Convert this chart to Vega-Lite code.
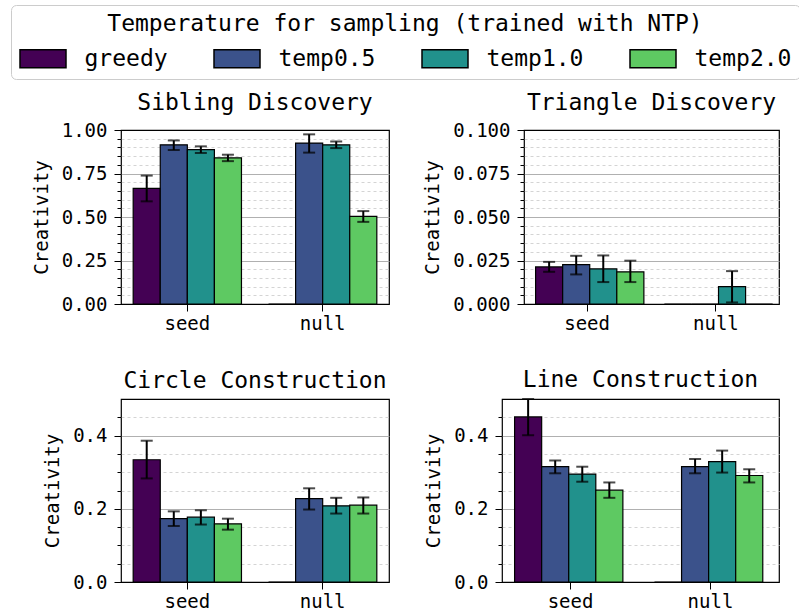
{
  "$schema": "https://vega.github.io/schema/vega-lite/v6.json",
  "padding": {"left": 10, "top": 4, "right": 2, "bottom": 2},
  "background": "white",
  "datasets": {
    "d": [
      {"panel": "Sibling Discovery", "group": "seed", "temp": "greedy", "value": 0.665, "lo": 0.59, "hi": 0.738},
      {"panel": "Sibling Discovery", "group": "seed", "temp": "temp0.5", "value": 0.915, "lo": 0.885, "hi": 0.94},
      {"panel": "Sibling Discovery", "group": "seed", "temp": "temp1.0", "value": 0.887, "lo": 0.868, "hi": 0.906},
      {"panel": "Sibling Discovery", "group": "seed", "temp": "temp2.0", "value": 0.84, "lo": 0.821, "hi": 0.858},
      {"panel": "Sibling Discovery", "group": "null", "temp": "greedy", "value": 0.0, "lo": null, "hi": null},
      {"panel": "Sibling Discovery", "group": "null", "temp": "temp0.5", "value": 0.925, "lo": 0.87, "hi": 0.975},
      {"panel": "Sibling Discovery", "group": "null", "temp": "temp1.0", "value": 0.915, "lo": 0.896, "hi": 0.934},
      {"panel": "Sibling Discovery", "group": "null", "temp": "temp2.0", "value": 0.504, "lo": 0.472, "hi": 0.534},
      {"panel": "Triangle Discovery", "group": "seed", "temp": "greedy", "value": 0.0213, "lo": 0.0185, "hi": 0.0242},
      {"panel": "Triangle Discovery", "group": "seed", "temp": "temp0.5", "value": 0.0226, "lo": 0.017, "hi": 0.0277},
      {"panel": "Triangle Discovery", "group": "seed", "temp": "temp1.0", "value": 0.0202, "lo": 0.0126, "hi": 0.0279},
      {"panel": "Triangle Discovery", "group": "seed", "temp": "temp2.0", "value": 0.0185, "lo": 0.0126, "hi": 0.0249},
      {"panel": "Triangle Discovery", "group": "null", "temp": "greedy", "value": 0.0, "lo": null, "hi": null},
      {"panel": "Triangle Discovery", "group": "null", "temp": "temp0.5", "value": 0.0, "lo": null, "hi": null},
      {"panel": "Triangle Discovery", "group": "null", "temp": "temp1.0", "value": 0.01, "lo": 0.0009, "hi": 0.0189},
      {"panel": "Triangle Discovery", "group": "null", "temp": "temp2.0", "value": 0.0, "lo": null, "hi": null},
      {"panel": "Circle Construction", "group": "seed", "temp": "greedy", "value": 0.334, "lo": 0.283, "hi": 0.386},
      {"panel": "Circle Construction", "group": "seed", "temp": "temp0.5", "value": 0.173, "lo": 0.153, "hi": 0.193},
      {"panel": "Circle Construction", "group": "seed", "temp": "temp1.0", "value": 0.177, "lo": 0.157, "hi": 0.196},
      {"panel": "Circle Construction", "group": "seed", "temp": "temp2.0", "value": 0.159, "lo": 0.143, "hi": 0.173},
      {"panel": "Circle Construction", "group": "null", "temp": "greedy", "value": 0.0, "lo": null, "hi": null},
      {"panel": "Circle Construction", "group": "null", "temp": "temp0.5", "value": 0.228, "lo": 0.198, "hi": 0.256},
      {"panel": "Circle Construction", "group": "null", "temp": "temp1.0", "value": 0.208, "lo": 0.187, "hi": 0.23},
      {"panel": "Circle Construction", "group": "null", "temp": "temp2.0", "value": 0.21, "lo": 0.187, "hi": 0.231},
      {"panel": "Line Construction", "group": "seed", "temp": "greedy", "value": 0.451, "lo": 0.401, "hi": 0.5},
      {"panel": "Line Construction", "group": "seed", "temp": "temp0.5", "value": 0.315, "lo": 0.297, "hi": 0.332},
      {"panel": "Line Construction", "group": "seed", "temp": "temp1.0", "value": 0.295, "lo": 0.274, "hi": 0.315},
      {"panel": "Line Construction", "group": "seed", "temp": "temp2.0", "value": 0.251, "lo": 0.23, "hi": 0.272},
      {"panel": "Line Construction", "group": "null", "temp": "greedy", "value": 0.0, "lo": null, "hi": null},
      {"panel": "Line Construction", "group": "null", "temp": "temp0.5", "value": 0.315, "lo": 0.297, "hi": 0.336},
      {"panel": "Line Construction", "group": "null", "temp": "temp1.0", "value": 0.329, "lo": 0.299, "hi": 0.359},
      {"panel": "Line Construction", "group": "null", "temp": "temp2.0", "value": 0.291, "lo": 0.272, "hi": 0.308}
    ]
  },
  "spacing": 34,
  "vconcat": [
    {
      "hconcat": [
        {
          "width": 268, "height": 174,
          "title": "Sibling Discovery",
          "data": {"name": "d"},
          "transform": [{"filter": "datum.panel === 'Sibling Discovery'"}],
          "encoding": {
            "x": {"field": "group", "type": "nominal", "sort": ["seed", "null"], "scale": {"paddingInner": 0.2, "paddingOuter": 0.09}, "axis": {"title": null}},
            "xOffset": {"field": "temp", "type": "nominal", "sort": ["greedy", "temp0.5", "temp1.0", "temp2.0"], "scale": {"paddingInner": 0, "paddingOuter": 0}}
          },
          "layer": [
            {
              "mark": {"type": "bar", "stroke": "black", "strokeWidth": 1.2},
              "encoding": {
                "y": {"field": "value", "type": "quantitative", "scale": {"domain": [0, 1], "nice": false}, "axis": {"title": "Creativity", "values": [0, 0.05, 0.1, 0.15, 0.2, 0.25, 0.3, 0.35, 0.4, 0.45, 0.5, 0.55, 0.6, 0.65, 0.7, 0.75, 0.8, 0.85, 0.9, 0.95, 1.0], "labelExpr": "abs(datum.value*4 - round(datum.value*4)) < 1e-6 ? format(datum.value, '.2f') : ''", "tickSize": {"condition": {"test": "abs(datum.value*4 - round(datum.value*4)) < 1e-6", "value": 7}, "value": 4}, "gridDash": {"condition": {"test": "abs(datum.value*4 - round(datum.value*4)) < 1e-6", "value": []}, "value": [3, 3]}, "gridColor": {"condition": {"test": "abs(datum.value*4 - round(datum.value*4)) < 1e-6", "value": "#b0b0b0"}, "value": "#d4d4d4"}, "gridOpacity": {"condition": {"test": "datum.value < 1e-9 || datum.value > 0.999", "value": 0}, "value": 1}}},
                "color": {"field": "temp", "type": "nominal", "scale": {"domain": ["greedy", "temp0.5", "temp1.0", "temp2.0"], "range": ["#440154", "#3b528b", "#21918c", "#5ec962"]}, "legend": {"title": "Temperature for sampling (trained with NTP)", "orient": "none", "legendX": -110, "legendY": -125, "direction": "horizontal", "columns": 4}}
              }
            },
            {
              "transform": [{"filter": "isValid(datum.lo)"}],
              "mark": {"type": "rule", "color": "black", "strokeWidth": 2},
              "encoding": {"y": {"field": "lo", "type": "quantitative", "scale": {"domain": [0, 1], "nice": false}, "axis": {"title": "Creativity", "values": [0, 0.05, 0.1, 0.15, 0.2, 0.25, 0.3, 0.35, 0.4, 0.45, 0.5, 0.55, 0.6, 0.65, 0.7, 0.75, 0.8, 0.85, 0.9, 0.95, 1.0], "labelExpr": "abs(datum.value*4 - round(datum.value*4)) < 1e-6 ? format(datum.value, '.2f') : ''", "tickSize": {"condition": {"test": "abs(datum.value*4 - round(datum.value*4)) < 1e-6", "value": 7}, "value": 4}, "gridDash": {"condition": {"test": "abs(datum.value*4 - round(datum.value*4)) < 1e-6", "value": []}, "value": [3, 3]}, "gridColor": {"condition": {"test": "abs(datum.value*4 - round(datum.value*4)) < 1e-6", "value": "#b0b0b0"}, "value": "#d4d4d4"}, "gridOpacity": {"condition": {"test": "datum.value < 1e-9 || datum.value > 0.999", "value": 0}, "value": 1}}}, "y2": {"field": "hi"}}
            },
            {
              "transform": [{"filter": "isValid(datum.lo)"}],
              "mark": {"type": "tick", "orient": "horizontal", "color": "black", "size": 12, "thickness": 2},
              "encoding": {"y": {"field": "lo", "type": "quantitative", "scale": {"domain": [0, 1], "nice": false}, "axis": {"title": "Creativity", "values": [0, 0.05, 0.1, 0.15, 0.2, 0.25, 0.3, 0.35, 0.4, 0.45, 0.5, 0.55, 0.6, 0.65, 0.7, 0.75, 0.8, 0.85, 0.9, 0.95, 1.0], "labelExpr": "abs(datum.value*4 - round(datum.value*4)) < 1e-6 ? format(datum.value, '.2f') : ''", "tickSize": {"condition": {"test": "abs(datum.value*4 - round(datum.value*4)) < 1e-6", "value": 7}, "value": 4}, "gridDash": {"condition": {"test": "abs(datum.value*4 - round(datum.value*4)) < 1e-6", "value": []}, "value": [3, 3]}, "gridColor": {"condition": {"test": "abs(datum.value*4 - round(datum.value*4)) < 1e-6", "value": "#b0b0b0"}, "value": "#d4d4d4"}, "gridOpacity": {"condition": {"test": "datum.value < 1e-9 || datum.value > 0.999", "value": 0}, "value": 1}}}}
            },
            {
              "transform": [{"filter": "isValid(datum.lo)"}],
              "mark": {"type": "tick", "orient": "horizontal", "color": "black", "size": 12, "thickness": 2},
              "encoding": {"y": {"field": "hi", "type": "quantitative", "scale": {"domain": [0, 1], "nice": false}, "axis": {"title": "Creativity", "values": [0, 0.05, 0.1, 0.15, 0.2, 0.25, 0.3, 0.35, 0.4, 0.45, 0.5, 0.55, 0.6, 0.65, 0.7, 0.75, 0.8, 0.85, 0.9, 0.95, 1.0], "labelExpr": "abs(datum.value*4 - round(datum.value*4)) < 1e-6 ? format(datum.value, '.2f') : ''", "tickSize": {"condition": {"test": "abs(datum.value*4 - round(datum.value*4)) < 1e-6", "value": 7}, "value": 4}, "gridDash": {"condition": {"test": "abs(datum.value*4 - round(datum.value*4)) < 1e-6", "value": []}, "value": [3, 3]}, "gridColor": {"condition": {"test": "abs(datum.value*4 - round(datum.value*4)) < 1e-6", "value": "#b0b0b0"}, "value": "#d4d4d4"}, "gridOpacity": {"condition": {"test": "datum.value < 1e-9 || datum.value > 0.999", "value": 0}, "value": 1}}}}
            }
          ]
        },
        {
          "width": 255, "height": 174,
          "title": "Triangle Discovery",
          "data": {"name": "d"},
          "transform": [{"filter": "datum.panel === 'Triangle Discovery'"}],
          "encoding": {
            "x": {"field": "group", "type": "nominal", "sort": ["seed", "null"], "scale": {"paddingInner": 0.2, "paddingOuter": 0.09}, "axis": {"title": null}},
            "xOffset": {"field": "temp", "type": "nominal", "sort": ["greedy", "temp0.5", "temp1.0", "temp2.0"], "scale": {"paddingInner": 0, "paddingOuter": 0}}
          },
          "layer": [
            {
              "mark": {"type": "bar", "stroke": "black", "strokeWidth": 1.2},
              "encoding": {
                "y": {"field": "value", "type": "quantitative", "scale": {"domain": [0, 0.1], "nice": false}, "axis": {"title": "Creativity", "values": [0, 0.005, 0.01, 0.015, 0.02, 0.025, 0.03, 0.035, 0.04, 0.045, 0.05, 0.055, 0.06, 0.065, 0.07, 0.075, 0.08, 0.085, 0.09, 0.095, 0.1], "labelExpr": "abs(datum.value*40 - round(datum.value*40)) < 1e-6 ? format(datum.value, '.3f') : ''", "tickSize": {"condition": {"test": "abs(datum.value*40 - round(datum.value*40)) < 1e-6", "value": 7}, "value": 4}, "gridDash": {"condition": {"test": "abs(datum.value*40 - round(datum.value*40)) < 1e-6", "value": []}, "value": [3, 3]}, "gridColor": {"condition": {"test": "abs(datum.value*40 - round(datum.value*40)) < 1e-6", "value": "#b0b0b0"}, "value": "#d4d4d4"}, "gridOpacity": {"condition": {"test": "datum.value < 1e-9 || datum.value > 0.0999", "value": 0}, "value": 1}}},
                "color": {"field": "temp", "type": "nominal", "scale": {"domain": ["greedy", "temp0.5", "temp1.0", "temp2.0"], "range": ["#440154", "#3b528b", "#21918c", "#5ec962"]}, "legend": {"title": "Temperature for sampling (trained with NTP)", "orient": "none", "legendX": -110, "legendY": -125, "direction": "horizontal", "columns": 4}}
              }
            },
            {
              "transform": [{"filter": "isValid(datum.lo)"}],
              "mark": {"type": "rule", "color": "black", "strokeWidth": 2},
              "encoding": {"y": {"field": "lo", "type": "quantitative", "scale": {"domain": [0, 0.1], "nice": false}, "axis": {"title": "Creativity", "values": [0, 0.005, 0.01, 0.015, 0.02, 0.025, 0.03, 0.035, 0.04, 0.045, 0.05, 0.055, 0.06, 0.065, 0.07, 0.075, 0.08, 0.085, 0.09, 0.095, 0.1], "labelExpr": "abs(datum.value*40 - round(datum.value*40)) < 1e-6 ? format(datum.value, '.3f') : ''", "tickSize": {"condition": {"test": "abs(datum.value*40 - round(datum.value*40)) < 1e-6", "value": 7}, "value": 4}, "gridDash": {"condition": {"test": "abs(datum.value*40 - round(datum.value*40)) < 1e-6", "value": []}, "value": [3, 3]}, "gridColor": {"condition": {"test": "abs(datum.value*40 - round(datum.value*40)) < 1e-6", "value": "#b0b0b0"}, "value": "#d4d4d4"}, "gridOpacity": {"condition": {"test": "datum.value < 1e-9 || datum.value > 0.0999", "value": 0}, "value": 1}}}, "y2": {"field": "hi"}}
            },
            {
              "transform": [{"filter": "isValid(datum.lo)"}],
              "mark": {"type": "tick", "orient": "horizontal", "color": "black", "size": 12, "thickness": 2},
              "encoding": {"y": {"field": "lo", "type": "quantitative", "scale": {"domain": [0, 0.1], "nice": false}, "axis": {"title": "Creativity", "values": [0, 0.005, 0.01, 0.015, 0.02, 0.025, 0.03, 0.035, 0.04, 0.045, 0.05, 0.055, 0.06, 0.065, 0.07, 0.075, 0.08, 0.085, 0.09, 0.095, 0.1], "labelExpr": "abs(datum.value*40 - round(datum.value*40)) < 1e-6 ? format(datum.value, '.3f') : ''", "tickSize": {"condition": {"test": "abs(datum.value*40 - round(datum.value*40)) < 1e-6", "value": 7}, "value": 4}, "gridDash": {"condition": {"test": "abs(datum.value*40 - round(datum.value*40)) < 1e-6", "value": []}, "value": [3, 3]}, "gridColor": {"condition": {"test": "abs(datum.value*40 - round(datum.value*40)) < 1e-6", "value": "#b0b0b0"}, "value": "#d4d4d4"}, "gridOpacity": {"condition": {"test": "datum.value < 1e-9 || datum.value > 0.0999", "value": 0}, "value": 1}}}}
            },
            {
              "transform": [{"filter": "isValid(datum.lo)"}],
              "mark": {"type": "tick", "orient": "horizontal", "color": "black", "size": 12, "thickness": 2},
              "encoding": {"y": {"field": "hi", "type": "quantitative", "scale": {"domain": [0, 0.1], "nice": false}, "axis": {"title": "Creativity", "values": [0, 0.005, 0.01, 0.015, 0.02, 0.025, 0.03, 0.035, 0.04, 0.045, 0.05, 0.055, 0.06, 0.065, 0.07, 0.075, 0.08, 0.085, 0.09, 0.095, 0.1], "labelExpr": "abs(datum.value*40 - round(datum.value*40)) < 1e-6 ? format(datum.value, '.3f') : ''", "tickSize": {"condition": {"test": "abs(datum.value*40 - round(datum.value*40)) < 1e-6", "value": 7}, "value": 4}, "gridDash": {"condition": {"test": "abs(datum.value*40 - round(datum.value*40)) < 1e-6", "value": []}, "value": [3, 3]}, "gridColor": {"condition": {"test": "abs(datum.value*40 - round(datum.value*40)) < 1e-6", "value": "#b0b0b0"}, "value": "#d4d4d4"}, "gridOpacity": {"condition": {"test": "datum.value < 1e-9 || datum.value > 0.0999", "value": 0}, "value": 1}}}}
            }
          ]
        }
      ],
      "spacing": 135,
      "bounds": "flush"
    },
    {
      "hconcat": [
        {
          "width": 268, "height": 183,
          "title": "Circle Construction",
          "data": {"name": "d"},
          "transform": [{"filter": "datum.panel === 'Circle Construction'"}],
          "encoding": {
            "x": {"field": "group", "type": "nominal", "sort": ["seed", "null"], "scale": {"paddingInner": 0.2, "paddingOuter": 0.09}, "axis": {"title": null}},
            "xOffset": {"field": "temp", "type": "nominal", "sort": ["greedy", "temp0.5", "temp1.0", "temp2.0"], "scale": {"paddingInner": 0, "paddingOuter": 0}}
          },
          "layer": [
            {
              "mark": {"type": "bar", "stroke": "black", "strokeWidth": 1.2},
              "encoding": {
                "y": {"field": "value", "type": "quantitative", "scale": {"domain": [0, 0.5], "nice": false}, "axis": {"title": "Creativity", "values": [0, 0.05, 0.1, 0.15, 0.2, 0.25, 0.3, 0.35, 0.4, 0.45], "labelExpr": "abs(datum.value*5 - round(datum.value*5)) < 1e-6 ? format(datum.value, '.1f') : ''", "tickSize": {"condition": {"test": "abs(datum.value*5 - round(datum.value*5)) < 1e-6", "value": 7}, "value": 4}, "gridDash": {"condition": {"test": "abs(datum.value*5 - round(datum.value*5)) < 1e-6", "value": []}, "value": [3, 3]}, "gridColor": {"condition": {"test": "abs(datum.value*5 - round(datum.value*5)) < 1e-6", "value": "#b0b0b0"}, "value": "#d4d4d4"}, "gridOpacity": {"condition": {"test": "datum.value < 1e-9", "value": 0}, "value": 1}}},
                "color": {"field": "temp", "type": "nominal", "scale": {"domain": ["greedy", "temp0.5", "temp1.0", "temp2.0"], "range": ["#440154", "#3b528b", "#21918c", "#5ec962"]}, "legend": {"title": "Temperature for sampling (trained with NTP)", "orient": "none", "legendX": -110, "legendY": -125, "direction": "horizontal", "columns": 4}}
              }
            },
            {
              "transform": [{"filter": "isValid(datum.lo)"}],
              "mark": {"type": "rule", "color": "black", "strokeWidth": 2},
              "encoding": {"y": {"field": "lo", "type": "quantitative", "scale": {"domain": [0, 0.5], "nice": false}, "axis": {"title": "Creativity", "values": [0, 0.05, 0.1, 0.15, 0.2, 0.25, 0.3, 0.35, 0.4, 0.45], "labelExpr": "abs(datum.value*5 - round(datum.value*5)) < 1e-6 ? format(datum.value, '.1f') : ''", "tickSize": {"condition": {"test": "abs(datum.value*5 - round(datum.value*5)) < 1e-6", "value": 7}, "value": 4}, "gridDash": {"condition": {"test": "abs(datum.value*5 - round(datum.value*5)) < 1e-6", "value": []}, "value": [3, 3]}, "gridColor": {"condition": {"test": "abs(datum.value*5 - round(datum.value*5)) < 1e-6", "value": "#b0b0b0"}, "value": "#d4d4d4"}, "gridOpacity": {"condition": {"test": "datum.value < 1e-9", "value": 0}, "value": 1}}}, "y2": {"field": "hi"}}
            },
            {
              "transform": [{"filter": "isValid(datum.lo)"}],
              "mark": {"type": "tick", "orient": "horizontal", "color": "black", "size": 12, "thickness": 2},
              "encoding": {"y": {"field": "lo", "type": "quantitative", "scale": {"domain": [0, 0.5], "nice": false}, "axis": {"title": "Creativity", "values": [0, 0.05, 0.1, 0.15, 0.2, 0.25, 0.3, 0.35, 0.4, 0.45], "labelExpr": "abs(datum.value*5 - round(datum.value*5)) < 1e-6 ? format(datum.value, '.1f') : ''", "tickSize": {"condition": {"test": "abs(datum.value*5 - round(datum.value*5)) < 1e-6", "value": 7}, "value": 4}, "gridDash": {"condition": {"test": "abs(datum.value*5 - round(datum.value*5)) < 1e-6", "value": []}, "value": [3, 3]}, "gridColor": {"condition": {"test": "abs(datum.value*5 - round(datum.value*5)) < 1e-6", "value": "#b0b0b0"}, "value": "#d4d4d4"}, "gridOpacity": {"condition": {"test": "datum.value < 1e-9", "value": 0}, "value": 1}}}}
            },
            {
              "transform": [{"filter": "isValid(datum.lo)"}],
              "mark": {"type": "tick", "orient": "horizontal", "color": "black", "size": 12, "thickness": 2},
              "encoding": {"y": {"field": "hi", "type": "quantitative", "scale": {"domain": [0, 0.5], "nice": false}, "axis": {"title": "Creativity", "values": [0, 0.05, 0.1, 0.15, 0.2, 0.25, 0.3, 0.35, 0.4, 0.45], "labelExpr": "abs(datum.value*5 - round(datum.value*5)) < 1e-6 ? format(datum.value, '.1f') : ''", "tickSize": {"condition": {"test": "abs(datum.value*5 - round(datum.value*5)) < 1e-6", "value": 7}, "value": 4}, "gridDash": {"condition": {"test": "abs(datum.value*5 - round(datum.value*5)) < 1e-6", "value": []}, "value": [3, 3]}, "gridColor": {"condition": {"test": "abs(datum.value*5 - round(datum.value*5)) < 1e-6", "value": "#b0b0b0"}, "value": "#d4d4d4"}, "gridOpacity": {"condition": {"test": "datum.value < 1e-9", "value": 0}, "value": 1}}}}
            }
          ]
        },
        {
          "width": 277, "height": 183,
          "title": "Line Construction",
          "data": {"name": "d"},
          "transform": [{"filter": "datum.panel === 'Line Construction'"}],
          "encoding": {
            "x": {"field": "group", "type": "nominal", "sort": ["seed", "null"], "scale": {"paddingInner": 0.2, "paddingOuter": 0.09}, "axis": {"title": null}},
            "xOffset": {"field": "temp", "type": "nominal", "sort": ["greedy", "temp0.5", "temp1.0", "temp2.0"], "scale": {"paddingInner": 0, "paddingOuter": 0}}
          },
          "layer": [
            {
              "mark": {"type": "bar", "stroke": "black", "strokeWidth": 1.2},
              "encoding": {
                "y": {"field": "value", "type": "quantitative", "scale": {"domain": [0, 0.5], "nice": false}, "axis": {"title": "Creativity", "values": [0, 0.05, 0.1, 0.15, 0.2, 0.25, 0.3, 0.35, 0.4, 0.45], "labelExpr": "abs(datum.value*5 - round(datum.value*5)) < 1e-6 ? format(datum.value, '.1f') : ''", "tickSize": {"condition": {"test": "abs(datum.value*5 - round(datum.value*5)) < 1e-6", "value": 7}, "value": 4}, "gridDash": {"condition": {"test": "abs(datum.value*5 - round(datum.value*5)) < 1e-6", "value": []}, "value": [3, 3]}, "gridColor": {"condition": {"test": "abs(datum.value*5 - round(datum.value*5)) < 1e-6", "value": "#b0b0b0"}, "value": "#d4d4d4"}, "gridOpacity": {"condition": {"test": "datum.value < 1e-9", "value": 0}, "value": 1}}},
                "color": {"field": "temp", "type": "nominal", "scale": {"domain": ["greedy", "temp0.5", "temp1.0", "temp2.0"], "range": ["#440154", "#3b528b", "#21918c", "#5ec962"]}, "legend": {"title": "Temperature for sampling (trained with NTP)", "orient": "none", "legendX": -110, "legendY": -125, "direction": "horizontal", "columns": 4}}
              }
            },
            {
              "transform": [{"filter": "isValid(datum.lo)"}],
              "mark": {"type": "rule", "color": "black", "strokeWidth": 2},
              "encoding": {"y": {"field": "lo", "type": "quantitative", "scale": {"domain": [0, 0.5], "nice": false}, "axis": {"title": "Creativity", "values": [0, 0.05, 0.1, 0.15, 0.2, 0.25, 0.3, 0.35, 0.4, 0.45], "labelExpr": "abs(datum.value*5 - round(datum.value*5)) < 1e-6 ? format(datum.value, '.1f') : ''", "tickSize": {"condition": {"test": "abs(datum.value*5 - round(datum.value*5)) < 1e-6", "value": 7}, "value": 4}, "gridDash": {"condition": {"test": "abs(datum.value*5 - round(datum.value*5)) < 1e-6", "value": []}, "value": [3, 3]}, "gridColor": {"condition": {"test": "abs(datum.value*5 - round(datum.value*5)) < 1e-6", "value": "#b0b0b0"}, "value": "#d4d4d4"}, "gridOpacity": {"condition": {"test": "datum.value < 1e-9", "value": 0}, "value": 1}}}, "y2": {"field": "hi"}}
            },
            {
              "transform": [{"filter": "isValid(datum.lo)"}],
              "mark": {"type": "tick", "orient": "horizontal", "color": "black", "size": 12, "thickness": 2},
              "encoding": {"y": {"field": "lo", "type": "quantitative", "scale": {"domain": [0, 0.5], "nice": false}, "axis": {"title": "Creativity", "values": [0, 0.05, 0.1, 0.15, 0.2, 0.25, 0.3, 0.35, 0.4, 0.45], "labelExpr": "abs(datum.value*5 - round(datum.value*5)) < 1e-6 ? format(datum.value, '.1f') : ''", "tickSize": {"condition": {"test": "abs(datum.value*5 - round(datum.value*5)) < 1e-6", "value": 7}, "value": 4}, "gridDash": {"condition": {"test": "abs(datum.value*5 - round(datum.value*5)) < 1e-6", "value": []}, "value": [3, 3]}, "gridColor": {"condition": {"test": "abs(datum.value*5 - round(datum.value*5)) < 1e-6", "value": "#b0b0b0"}, "value": "#d4d4d4"}, "gridOpacity": {"condition": {"test": "datum.value < 1e-9", "value": 0}, "value": 1}}}}
            },
            {
              "transform": [{"filter": "isValid(datum.lo)"}],
              "mark": {"type": "tick", "orient": "horizontal", "color": "black", "size": 12, "thickness": 2},
              "encoding": {"y": {"field": "hi", "type": "quantitative", "scale": {"domain": [0, 0.5], "nice": false}, "axis": {"title": "Creativity", "values": [0, 0.05, 0.1, 0.15, 0.2, 0.25, 0.3, 0.35, 0.4, 0.45], "labelExpr": "abs(datum.value*5 - round(datum.value*5)) < 1e-6 ? format(datum.value, '.1f') : ''", "tickSize": {"condition": {"test": "abs(datum.value*5 - round(datum.value*5)) < 1e-6", "value": 7}, "value": 4}, "gridDash": {"condition": {"test": "abs(datum.value*5 - round(datum.value*5)) < 1e-6", "value": []}, "value": [3, 3]}, "gridColor": {"condition": {"test": "abs(datum.value*5 - round(datum.value*5)) < 1e-6", "value": "#b0b0b0"}, "value": "#d4d4d4"}, "gridOpacity": {"condition": {"test": "datum.value < 1e-9", "value": 0}, "value": 1}}}}
            }
          ]
        }
      ],
      "spacing": 113,
      "bounds": "flush"
    }
  ],
  "config": {
    "font": "DejaVu Sans Mono",
    "view": {"stroke": "black", "strokeWidth": 1.2},
    "title": {"font": "DejaVu Sans Mono", "fontSize": 23, "fontWeight": "normal", "color": "black", "anchor": "middle", "frame": "group", "offset": 6},
    "axis": {
      "labelFont": "DejaVu Sans Mono", "labelFontSize": 19, "labelColor": "black",
      "titleFont": "DejaVu Sans Mono", "titleFontSize": 19, "titleFontWeight": "normal", "titleColor": "black",
      "tickColor": "black", "tickWidth": 1, "ticks": true, "domain": false, "labelFlush": false, "labelBound": false, "labelOverlap": false
    },
    "axisY": {"grid": true, "gridWidth": 1, "tickSize": 7, "labelPadding": 7, "titlePadding": 10, "zindex": 1},
    "axisX": {"grid": false, "ticks": true, "tickSize": 7, "labelPadding": 3, "labelAngle": 0},
    "legend": {
      "titleFont": "DejaVu Sans Mono", "titleFontSize": 23, "titleFontWeight": "normal", "titleColor": "black", "titleAnchor": "middle", "titlePadding": 10, "titleLimit": 1000,
      "labelFont": "DejaVu Sans Mono", "labelFontSize": 23, "labelColor": "black", "labelOffset": 29, "labelLimit": 400,
      "symbolType": "M-2,-0.78H2V0.78H-2Z", "symbolSize": 529, "symbolOffset": 11.5, "symbolStrokeColor": "black", "symbolStrokeWidth": 1.5, "symbolOpacity": 1,
      "columnPadding": 43, "padding": 8, "strokeColor": "#cccccc", "cornerRadius": 5, "fillColor": "white"
    }
  }
}
